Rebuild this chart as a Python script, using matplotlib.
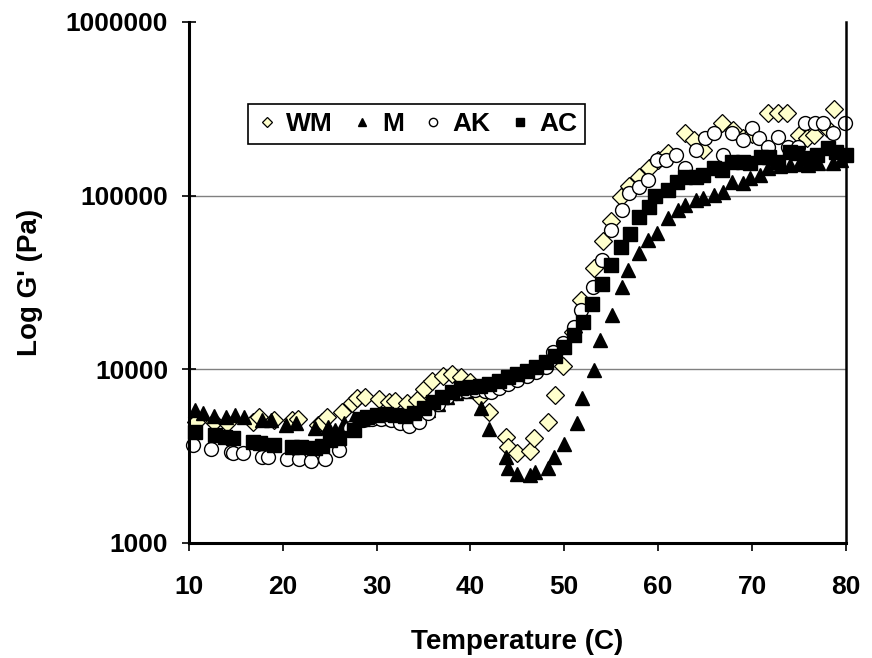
import matplotlib
matplotlib.use("Agg")
import matplotlib.pyplot as plt
from matplotlib.ticker import NullLocator, FixedLocator

# data (temperature C, G' Pa)
tempWM = [10.7, 12.7, 14.1, 16.8, 17.5, 19.1, 21.0, 21.6, 23.7, 24.2, 24.7, 26.3, 27.4, 27.9, 28.8,
          30.2, 31.3, 32.0, 33.2, 34.3, 35.0, 35.9, 37.1, 38.0, 39.0, 39.9, 41.0, 42.0, 43.8, 44.0,
          45.0, 46.3, 46.8, 48.3, 49.0, 49.9, 50.9, 51.8, 53.2, 54.1, 55.0, 56.0, 56.9, 58.0, 59.0,
          60.0, 61.0, 62.9, 63.8, 64.8, 66.8, 68.0, 69.0, 70.0, 71.7, 72.8, 73.7, 75.0, 75.9, 76.6,
          78.0, 78.7]
gWM = [4980, 4980, 4910, 4980, 5320, 5110, 5110, 5180, 4790, 4980, 5320, 5690, 6410, 6850, 6940,
       6760, 6490, 6580, 6410, 6670, 7710, 8580, 9160, 9400, 9030, 8460, 6940, 5690, 4080, 3570,
       3300, 3390, 4030, 4980, 7120, 10470, 16500, 25100, 38400, 54900, 71500, 98300, 113800, 128000, 144400,
       160000, 176000, 229700, 209400, 183400, 262000, 239000, 215000, 225000, 299000, 299000, 299000, 223600, 215000, 223600,
       245000, 315000]

tempM = [10.6, 11.5, 12.7, 13.9, 14.9, 15.9, 17.8, 18.7, 20.3, 21.4, 23.4, 24.8, 25.6, 26.5, 27.5,
         28.5, 29.5, 30.5, 31.5, 32.5, 33.5, 34.5, 35.5, 36.5, 37.5, 38.5, 39.5, 41.1, 42.0, 43.8,
         44.0, 45.0, 46.3, 46.9, 48.3, 48.9, 50.0, 51.4, 51.9, 53.2, 53.8, 55.1, 56.1, 56.8, 58.0,
         58.9, 59.9, 61.0, 62.1, 62.9, 64.0, 64.8, 65.9, 66.9, 67.9, 69.0, 69.8, 70.9, 71.7, 73.0,
         74.0, 75.0, 76.0, 77.0, 78.6, 79.5]
gM = [5840, 5610, 5400, 5320, 5460, 5320, 5110, 5110, 4790, 4910, 4600, 4660, 4480, 4900, 5100,
      5200, 5300, 5300, 5250, 5200, 5100, 5400, 5800, 6300, 6900, 7300, 7500, 6000, 4540, 3130,
      2710, 2500, 2470, 2570, 2710, 3130, 3720, 4910, 6850, 9930, 14770, 20600, 29800, 37300, 46800,
      55600, 61000, 74400, 82700, 88400, 94500, 97000, 100900, 105000, 120000, 118300, 126500, 131600, 144400, 148000,
      150000, 152000, 150000, 155000, 154200, 160000]

tempAK = [10.4, 12.3, 14.5, 14.7, 15.8, 17.8, 18.4, 20.5, 21.7, 23.0, 24.5, 26.0, 27.2, 28.5, 29.5,
          30.5, 31.5, 32.5, 33.4, 34.5, 35.5, 36.5, 37.5, 38.5, 39.5, 40.5, 41.5, 42.2, 43.0, 44.0,
          45.0, 46.0, 47.0, 48.0, 48.8, 49.9, 51.0, 51.8, 53.1, 54.0, 55.0, 56.1, 56.9, 58.0, 58.9,
          59.9, 60.8, 61.9, 62.9, 64.0, 65.0, 65.9, 66.9, 67.9, 69.0, 70.0, 70.7, 71.7, 72.8, 73.8,
          74.9, 75.6, 76.7, 77.6, 78.6, 79.9]
gAK = [3670, 3480, 3350, 3300, 3300, 3130, 3130, 3050, 3050, 2970, 3050, 3440, 4600, 5100, 5200,
       5200, 5100, 4900, 4700, 5000, 5600, 6300, 6900, 7300, 7500, 7600, 7500, 7400, 7800, 8200,
       8700, 9200, 9700, 10300, 12600, 14200, 17500, 22000, 29800, 42600, 63500, 82700, 103700, 112300, 123100,
       160500, 160500, 171400, 144400, 183400, 215000, 229700, 171400, 229700, 209400, 245500, 215000, 190700, 218000, 190700,
       190700, 262600, 262600, 262600, 229700, 262600]

tempAC = [10.6, 12.8, 13.8, 14.7, 16.8, 17.6, 19.1, 21.0, 21.9, 23.4, 24.2, 25.0, 26.0, 27.6, 28.2,
          29.0, 30.0, 31.0, 32.0, 33.0, 34.0, 35.0, 36.0, 37.0, 38.0, 39.0, 40.0, 41.0, 42.0, 43.0,
          44.0, 45.0, 46.0, 47.0, 48.0, 49.0, 50.0, 51.0, 52.0, 53.0, 54.0, 55.0, 56.0, 57.0, 58.0,
          59.0, 59.7, 61.1, 62.0, 62.9, 64.0, 64.8, 65.9, 66.8, 67.9, 69.0, 69.8, 71.0, 71.8, 72.8,
          74.0, 74.8, 76.0, 76.9, 78.1, 79.0, 80.0]
gAC = [4360, 4190, 4080, 4030, 3820, 3770, 3670, 3570, 3570, 3530, 3630, 3930, 4030, 4480, 5200,
       5320, 5460, 5530, 5460, 5400, 5600, 6000, 6500, 6900, 7400, 7800, 7900, 8000, 8200, 8600,
       9000, 9400, 9800, 10300, 11000, 12000, 13400, 15700, 18700, 23800, 30900, 39700, 50500, 60000, 75600,
       86000, 99000, 108000, 120000, 128000, 128000, 131600, 144400, 140600, 156000, 156000, 154000, 167000, 167000, 156000,
       179000, 176000, 165000, 171000, 188000, 178000, 171000]

yTicks = [1000, 10000, 100000, 1000000]
xTicks = [10, 20, 30, 40, 50, 60, 70, 80]

plt.rcParams['font.family'] = ['Liberation Sans', 'DejaVu Sans']
plt.rcParams['font.weight'] = 'bold'

fig = plt.figure(figsize=(8.72, 6.58), dpi=100)
ax = fig.add_axes([0.2167, 0.1748, 0.7533, 0.7918])

ax.plot(tempWM, gWM, linestyle='none', marker='D', markersize=9, markerfacecolor='#FFFFCC',
        markeredgecolor='black', markeredgewidth=0.9, label='WM', clip_on=False)
ax.plot(tempM, gM, linestyle='none', marker='^', markersize=10, color='black', label='M', clip_on=False)
ax.plot(tempAK, gAK, linestyle='none', marker='o', markersize=10, markerfacecolor='white',
        markeredgecolor='black', markeredgewidth=1.0, label='AK', clip_on=False)
ax.plot(tempAC, gAC, linestyle='none', marker='s', markersize=9.5, color='black', label='AC', clip_on=False)

ax.set_yscale('log')
ax.set_xlim(10, 80)
ax.set_ylim(1000, 1000000)
ax.yaxis.set_major_locator(FixedLocator(yTicks))
ax.yaxis.set_minor_locator(NullLocator())
ax.set_yticklabels([str(v) for v in yTicks])
ax.set_xticks(xTicks)

ax.yaxis.grid(True, color='#808080', linewidth=1.0)
ax.set_axisbelow(True)
for i, gl in enumerate(ax.yaxis.get_gridlines()):
    if yTicks[i] == 1000000:
        gl.set_visible(False)

ax.spines['top'].set_visible(False)
ax.spines['left'].set_linewidth(2.2)
ax.spines['bottom'].set_linewidth(2.2)
ax.spines['right'].set_linewidth(1.8)

ax.tick_params(axis='y', direction='inout', length=10, width=1.2, labelsize=19, pad=10)
ax.tick_params(axis='x', direction='out', length=6, width=1.2, labelsize=19, pad=17)

ax.set_xlabel('Temperature (C)', fontsize=20, fontweight='bold')
ax.set_ylabel("Log G' (Pa)", fontsize=20, fontweight='bold')
ax.xaxis.set_label_coords(0.5, -0.165)
ax.yaxis.set_label_coords(-0.222, 0.5)

leg = ax.legend(loc='upper left', bbox_to_anchor=(0.09, 0.842), ncol=4, fancybox=False,
                framealpha=1, edgecolor='black', markerscale=0.6, borderaxespad=0,
                handlelength=0.8, handletextpad=0.35, columnspacing=0.7, borderpad=0.3,
                prop={'weight': 'bold', 'size': 19})
leg.get_frame().set_linewidth(1.2)

fig.savefig('out.png', dpi=100)
